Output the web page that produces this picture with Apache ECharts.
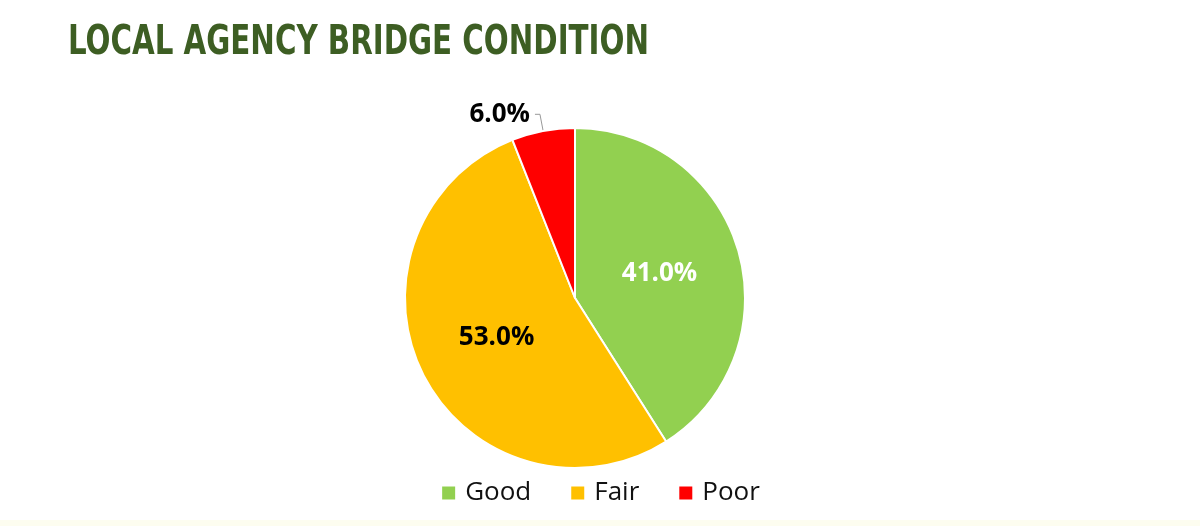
<!DOCTYPE html>
<html>
<head>
<meta charset="utf-8">
<script src="https://cdn.jsdelivr.net/npm/echarts@6/dist/echarts.min.js"></script>
<style>
  html, body { margin: 0; padding: 0; background: #fff; }
  #chart { width: 1200px; height: 526px; }
</style>
</head>
<body>
<div id="chart"></div>
<script>
var categories = ['Good', 'Fair', 'Poor'];
var values = [41.0, 53.0, 6.0];
var colors = ['#92d050', '#ffc000', '#ff0000'];

var labelStyles = [
    {position: 'inside', color: '#fff'},
    {position: 'inside', color: '#000'},
    {position: 'outside', color: '#000'}
];

var chart = echarts.init(document.getElementById('chart'));

var pieData = categories.map(function (name, i) {
    return {
        name: name,
        value: values[i],
        itemStyle: {color: colors[i]},
        label: labelStyles[i]
    };
});

var option = {
    animation: false,
    backgroundColor: '#fff',
    legend: {
        data: categories,
        top: 475,
        left: 'center',
        icon: 'rect',
        itemWidth: 15,
        itemHeight: 15,
        itemGap: 38,
        textStyle: {
            fontFamily: 'Open Sans',
            fontSize: 26,
            color: '#111',
            padding: [0, 0, 0, 4]
        }
    },
    graphic: [{
        type: 'text',
        left: 68,
        top: 23,
        scaleX: 0.795,
        style: {
            text: 'LOCAL AGENCY BRIDGE CONDITION',
            fontFamily: 'DejaVu Sans Condensed',
            fontWeight: 'bold',
            fontSize: 41,
            fill: '#3d5e23'
        }
    }, {
        type: 'rect',
        shape: {x: 0, y: 520, width: 1200, height: 6},
        style: {fill: '#fdfdf0'}
    }],
    series: [{
        type: 'pie',
        center: [575, 298],
        radius: 170,
        startAngle: 90,
        clockwise: true,
        data: pieData,
        itemStyle: {borderColor: '#fff', borderWidth: 2},
        label: {
            formatter: function (p) { return p.value.toFixed(1) + '%'; },
            fontFamily: 'Open Sans',
            fontWeight: 'bold',
            fontSize: 26
        },
        labelLine: {
            length: 17,
            length2: 5,
            lineStyle: {color: '#999', width: 1}
        }
    }]
};

chart.setOption(option, true);
</script>
</body>
</html>
